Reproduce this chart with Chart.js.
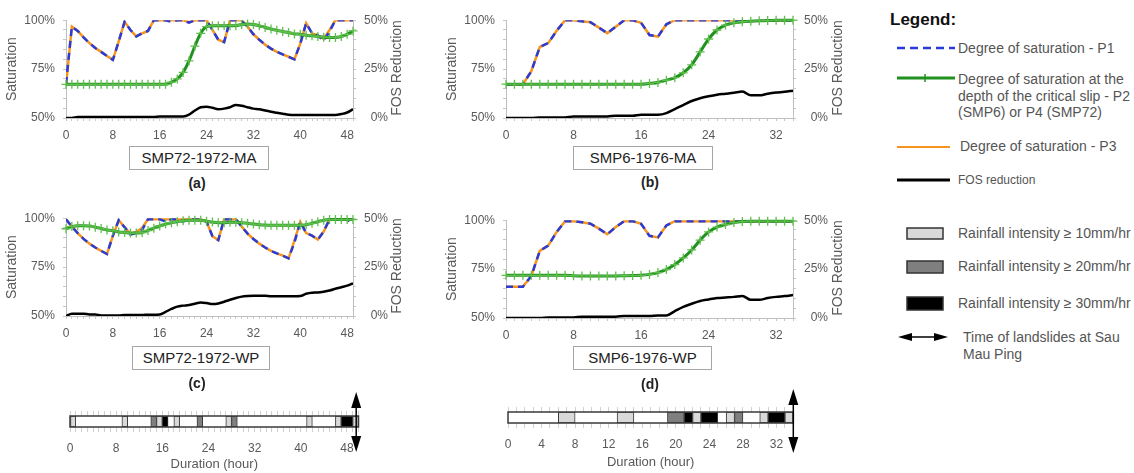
<!DOCTYPE html>
<html lang="en">
<head>
<meta charset="UTF-8">
<title>Degree of saturation and FOS reduction - Sau Mau Ping</title>
<script src="https://cdn.jsdelivr.net/npm/chart.js"></script>
<style>
  body { margin: 0; background: #fff; font-family: "Liberation Sans", Arial, sans-serif; }
  #page { position: relative; width: 1134px; height: 473px; overflow: hidden; background: #fff; }
  canvas { position: absolute; }
  .fos { position: absolute; width: 110px; text-align: center; font-size: 14px; color: #595959;
         white-space: nowrap; transform: translate(-50%, -50%) rotate(-90deg); }
  .case { position: absolute; border: 1px solid #a6a6a6; background: #fff; text-align: center;
          font-size: 15px; color: #222; height: 22px; line-height: 22px; }
  .tag { position: absolute; width: 40px; text-align: center; font-weight: bold; font-size: 14px; color: #222; line-height: 18px; }
  .lg { position: absolute; font-size: 14px; color: #555; line-height: 17px; white-space: nowrap; }
</style>
</head>
<body>
<div id="page">
  <canvas id="chartA" width="410" height="135" style="left:0px;top:5px"></canvas>
  <canvas id="chartB" width="410" height="135" style="left:440px;top:5px"></canvas>
  <canvas id="chartC" width="410" height="135" style="left:0px;top:203px"></canvas>
  <canvas id="chartD" width="410" height="135" style="left:440px;top:205px"></canvas>
  <canvas id="rain72" width="350" height="88" style="left:30px;top:385px"></canvas>
  <canvas id="rain76" width="360" height="88" style="left:470px;top:385px"></canvas>

  <div class="fos" style="left:396px;top:68px">FOS Reduction</div>
  <div class="fos" style="left:837px;top:68px">FOS Reduction</div>
  <div class="fos" style="left:396px;top:266px">FOS Reduction</div>
  <div class="fos" style="left:837px;top:268px">FOS Reduction</div>

  <div class="case" style="left:129px;top:146px;width:138px">SMP72-1972-MA</div>
  <div class="case" style="left:573px;top:146px;width:138px">SMP6-1976-MA</div>
  <div class="case" style="left:132px;top:346px;width:136px">SMP72-1972-WP</div>
  <div class="case" style="left:573px;top:346px;width:137px">SMP6-1976-WP</div>
  <div class="tag" style="left:177px;top:174px">(a)</div>
  <div class="tag" style="left:630px;top:173px">(b)</div>
  <div class="tag" style="left:177px;top:374px">(c)</div>
  <div class="tag" style="left:630px;top:375px">(d)</div>

  <!-- legend -->
  <svg style="position:absolute;left:880px;top:0" width="254" height="380">
    <line x1="17" y1="48" x2="75" y2="48" stroke="#2a3bd6" stroke-width="2.5" stroke-dasharray="8 5"/>
    <line x1="17" y1="78" x2="75" y2="78" stroke="#21921f" stroke-width="3"/>
    <line x1="45" y1="74" x2="45" y2="82" stroke="#21921f" stroke-width="1.5"/>
    <line x1="17" y1="147" x2="70" y2="147" stroke="#f7941d" stroke-width="2"/>
    <line x1="17" y1="180" x2="70" y2="180" stroke="#000" stroke-width="3"/>
    <rect x="27" y="228" width="36" height="11" fill="#d9d9d9" stroke="#333" stroke-width="1.5"/>
    <rect x="27" y="261" width="36" height="12" fill="#7f7f7f" stroke="#333" stroke-width="1.5"/>
    <rect x="27" y="297" width="36" height="13" fill="#000" stroke="#333" stroke-width="1.5"/>
    <line x1="26" y1="337" x2="60" y2="337" stroke="#000" stroke-width="1.5"/>
    <polygon points="18,337 32,333 32,341" fill="#000"/>
    <polygon points="68,337 54,333 54,341" fill="#000"/>
  </svg>
  <div class="lg" style="left:890px;top:10px;font-size:17px;font-weight:bold;color:#111;line-height:20px">Legend:</div>
  <div class="lg" style="left:958px;top:40px">Degree of saturation - P1</div>
  <div class="lg" style="left:958px;top:71px;line-height:16.7px">Degree of saturation at the<br>depth of the critical slip - P2<br>(SMP6) or P4 (SMP72)</div>
  <div class="lg" style="left:960px;top:138px">Degree of saturation - P3</div>
  <div class="lg" style="left:958px;top:173px;font-size:12px;line-height:14px">FOS reduction</div>
  <div class="lg" style="left:958px;top:225px">Rainfall intensity ≥ 10mm/hr</div>
  <div class="lg" style="left:958px;top:258px">Rainfall intensity ≥ 20mm/hr</div>
  <div class="lg" style="left:958px;top:295px">Rainfall intensity ≥ 30mm/hr</div>
  <div class="lg" style="left:963px;top:329px">Time of landslides at Sau<br>Mau Ping</div>
</div>
<script>
// hours (x categories)
const hours72 = [0, 1, 2, 3, 4, 5, 6, 7, 8, 9, 10, 11, 12, 13, 14, 15, 16, 17, 18, 19, 20, 21, 22, 23, 24,
                 25, 26, 27, 28, 29, 30, 31, 32, 33, 34, 35, 36, 37, 38, 39, 40, 41, 42, 43, 44, 45, 46, 47, 48, 49];
const hours76 = [0, 1, 2, 3, 4, 5, 6, 7, 8, 9, 10, 11, 12, 13, 14, 15, 16, 17, 18, 19, 20, 21, 22, 23, 24,
                 25, 26, 27, 28, 29, 30, 31, 32, 33, 34];

// (a) SMP72-1972-MA
const p1_72MA = [67.5, 96.7, 94.5, 91.2, 88.3, 85.8, 83.8, 81.7, 79.7, 89.2, 99.2, 95, 91.7, 93.3, 94.5, 100, 100, 100, 99.2, 100,
                 100, 98.7, 100, 100, 100, 95, 90, 88.8, 100, 100, 99.5, 96.7, 92.8, 90, 87.5, 85.5, 83.8, 82.5, 81.3, 80,
                 88, 98.5, 93.3, 92.2, 89.5, 94.2, 100, 100, 100, 100];
const p3_72MA = [66.5, 96.7, 94.5, 91.2, 88.3, 85.8, 83.8, 81.7, 79.7, 89.2, 99.2, 95, 91.7, 93.3, 94.5, 100, 100, 100, 100, 100,
                 100, 99, 100, 100, 100, 95, 90, 88.8, 100, 100, 100, 96.7, 92.8, 90, 87.5, 85.5, 83.8, 82.5, 81.3, 80,
                 88, 98.5, 93.3, 92.2, 90.5, 95, 100, 100, 100, 100];
const p4_72MA = [67.2, 67.2, 67.2, 67.2, 67.2, 67.2, 67.2, 67.2, 67.2, 67.2, 67.2, 67.2, 67.2, 67.2, 67.2, 67.2, 67.2, 67.2, 68.3, 70,
                 73.3, 79.2, 86.7, 93.3, 96.7, 97.2, 97.2, 97.2, 97.2, 97.2, 97.8, 98, 97.8, 97.2, 96.3, 95.5, 94.8, 94.2, 93.7, 93,
                 92.8, 92.3, 92, 91.7, 91.3, 91.2, 91.2, 91.7, 92.8, 94.5];
const fos_72MA = [0, 0, 0.5, 0.5, 0.5, 0.5, 0.5, 0.5, 0.5, 0.5, 0.5, 0.5, 0.5, 0.5, 0.5, 0.5, 0.8, 0.8, 0.8, 0.8,
                  0.8, 1.7, 3.8, 5.5, 5.8, 5.2, 4.5, 4.8, 5.5, 6.7, 6.3, 5.5, 4.8, 4.5, 3.8, 3.2, 2.7, 2.2, 1.7, 1.5,
                  1.5, 1.5, 1.5, 1.5, 1.5, 1.5, 1.5, 2, 2.8, 4.5];

// (b) SMP6-1976-MA
const p1_76MA = [67.3, 67.3, 67.3, 73.9, 86.3, 88.3, 94.6, 100, 100, 99.5, 99, 96.2, 93.4, 96.7, 100, 100, 98.7, 92.4, 91.6, 97.9,
                 100, 100, 100, 100, 100, 100, 100, 100, 100, 100, 100, 100, 100, 100, 100];
const p3_76MA = [67.3, 67.3, 67.3, 73.9, 86.3, 88.3, 94.6, 100, 100, 99.5, 99, 96.2, 93.4, 96.7, 100, 100, 98.7, 92.4, 91.6, 97.9,
                 100, 100, 100, 100, 100, 100, 100, 100, 100, 100, 100, 100, 100, 100, 100];
const p2_76MA = [67.3, 67.3, 67.3, 67.3, 67.3, 67.3, 67.3, 67.3, 67.3, 67.3, 67.3, 67.3, 67.3, 67.3, 67.3, 67.3, 67.3, 67.7, 68.2, 69.3,
                 70.6, 73.1, 77.2, 83.8, 90.4, 95, 97.5, 98.7, 99.2, 99.5, 99.7, 99.8, 100, 100, 100];
const fos_76MA = [0, 0, 0, 0, 0.3, 0.3, 0.3, 0.3, 0.8, 0.8, 0.8, 0.8, 0.8, 1.2, 1.2, 1.2, 1.7, 1.7, 1.7, 2.5,
                  4.5, 6.6, 8.7, 10.1, 11.1, 11.9, 12.4, 12.9, 13.5, 11.6, 11.6, 12.4, 13, 13.4, 14];

// (c) SMP72-1972-WP
const p1_72WP = [99.5, 95.7, 92.4, 89.4, 87, 85, 83.3, 81.7, 91, 99, 95.4, 91.6, 92.4, 94, 99.5, 99.5, 99.5, 98.2, 99.5, 99.5,
                 98.2, 99.5, 99.5, 99.5, 98.2, 90.8, 88.8, 99.5, 99.5, 99.5, 95.7, 92.1, 89.4, 87, 85, 83.3, 82, 80.9, 79.5, 87.5,
                 98.2, 92.4, 91.1, 89.1, 93.2, 99.5, 99.5, 99.5, 99.5, 96.5];
const p3_72WP = [99.5, 95.7, 92.4, 89.4, 87, 85, 83.3, 81.7, 91, 99, 95.4, 92, 93, 95, 99.5, 99.5, 99.5, 99.5, 99.5, 99.5,
                 99.5, 99.5, 99.5, 99.5, 98.2, 90.8, 88.8, 99.5, 99.5, 99.5, 95.7, 92.1, 89.4, 87, 85, 83.3, 82, 80.9, 79.5, 88.5,
                 98.2, 92.4, 91.1, 89.1, 93.2, 99.5, 99.5, 99.5, 99.5, 99.5];
const p4_72WP = [94.6, 95.7, 96.2, 96.2, 96, 95.4, 94.7, 94, 93.6, 93, 92.7, 92.4, 92.4, 92.7, 93.7, 94.9, 96, 97, 97.7, 98.2,
                 98.7, 99, 99, 99, 98.5, 98, 97.7, 97.7, 97.9, 97.9, 97.7, 97.4, 97, 96.7, 96.5, 96.4, 96.4, 96.4, 96.4, 96.4,
                 96.4, 96.7, 97.4, 98.2, 99, 99.3, 99.3, 99.3, 99.3, 99.3];
const fos_72WP = [0, 1.2, 1.2, 1.2, 0.8, 0.8, 0.3, 0.3, 0.3, 0.3, 0.5, 0.5, 0.5, 0.5, 0.7, 0.7, 0.8, 2.1, 3.6, 4.8,
                  5.3, 5.6, 6.3, 6.9, 6.6, 6.1, 6.4, 7.3, 8.3, 9.2, 9.9, 10.2, 10.3, 10.3, 10.3, 10.1, 10.1, 10.1, 10.1, 10.1,
                  10.2, 11.4, 11.9, 12, 12.4, 13, 13.9, 14.7, 15.5, 16.7];

// (d) SMP6-1976-WP
const p1_76WP = [66, 66, 66, 71.5, 84.3, 87, 94, 99.5, 99.5, 99, 98.2, 95.7, 92.8, 96.5, 99.5, 99.5, 98.2, 92, 91.2, 97.3,
                 99.5, 99.5, 99.5, 99.5, 99.5, 99.5, 99.5, 99.5, 99.5, 99.5, 99.5, 99.5, 99.5, 99.5, 99.5];
const p3_76WP = [66, 66, 66, 71.5, 84.3, 87, 94, 99.5, 99.5, 99, 98.2, 95.7, 92.8, 96.5, 99.5, 99.5, 98.2, 92, 91.2, 97.3,
                 99.5, 99.5, 99.5, 99.5, 99.5, 99.5, 99.5, 99.5, 99.5, 99.5, 99.5, 99.5, 99.5, 99.5, 99.5];
const p2_76WP = [71.8, 71.8, 71.8, 71.8, 71.8, 71.8, 71.8, 71.8, 71.6, 71.5, 71.5, 71.5, 71.5, 71.5, 71.6, 71.7, 71.8, 72.3, 73.2, 74.8,
                 77.3, 80.7, 84.8, 89.8, 94, 96.5, 97.8, 98.8, 99.3, 99.5, 99.5, 99.5, 99.5, 99.5, 99.5];
const fos_76WP = [0, 0, 0, 0, 0, 0.3, 0.3, 0.3, 0.3, 0.7, 0.7, 0.7, 0.7, 0.7, 1, 1, 1, 1, 1.3, 1.3,
                  3.5, 5.7, 7.3, 8.7, 9.5, 10.2, 10.5, 10.8, 11.3, 9.3, 9.3, 10.2, 10.8, 11.2, 11.7];

// rainfall periods [start hour, end hour]
const rain72_10 = [[0, 1], [9, 10], [15, 16], [18, 19], [27, 28], [41, 42], [46, 47], [49, 50]];
const rain72_20 = [[14, 15], [22, 23], [28, 29]];
const rain72_30 = [[16, 17], [47, 49]];
const rain76_10 = [[6, 8], [13, 15], [22, 23], [26, 27], [30, 31], [33, 34]];
const rain76_20 = [[19, 21], [27, 28]];
const rain76_30 = [[21, 22], [23, 25], [31, 33]];
const landslide72 = 49.6;
const landslide76 = 34;

Chart.defaults.font.family = "'Liberation Sans', Arial, sans-serif";
Chart.defaults.color = '#595959';

const axisGrey = '#bfbfbf';

function drawPanel(canvasId, hours, p1, p3, p24, fos) {
  new Chart(document.getElementById(canvasId), {
    type: 'line',
    data: {
      labels: hours,
      datasets: [
        { label: 'P2/P4', data: p24, borderColor: '#21921f', borderWidth: 3, cubicInterpolationMode: 'monotone',
          pointStyle: 'cross', pointRadius: 4.5, pointBorderColor: '#5fbf4c', pointBorderWidth: 1.3, order: 0, clip: 6 },
        { label: 'P1', data: p1, borderColor: '#2a3bd6', borderWidth: 2.5, borderDash: [7, 5], pointRadius: 0, order: 1 },
        { label: 'P3', data: p3, borderColor: '#f7941d', borderWidth: 2.5, pointRadius: 0, order: 2 },
        { label: 'FOS', data: fos, yAxisID: 'y1', borderColor: '#000', borderWidth: 2.5, pointRadius: 0,
          cubicInterpolationMode: 'monotone', order: 3 }
      ]
    },
    options: {
      responsive: false,
      animation: false,
      layout: { padding: { top: 13, right: 22 } },
      plugins: { legend: { display: false }, tooltip: { enabled: false } },
      scales: {
        x: {
          type: 'linear', min: 0, max: hours[hours.length - 1],
          grid: { drawOnChartArea: false, tickLength: 3, color: '#c8c8c8' },
          border: { color: axisGrey },
          ticks: { stepSize: 1, autoSkip: false, maxRotation: 0, padding: 7, font: { size: 12 },
                   callback: v => (v % 8 === 0 ? v : '') },
          afterFit: s => { s.height = 22; }
        },
        y: {
          min: 50, max: 100,
          grid: { drawOnChartArea: false, tickLength: 3, color: '#c8c8c8' },
          border: { color: axisGrey },
          ticks: { stepSize: 5, autoSkip: false, padding: 8, font: { size: 12 },
                   callback: v => (v % 25 === 0 ? v + '%' : '') },
          title: { display: true, text: 'Saturation', font: { size: 14 } },
          afterFit: s => { s.width = 66; }
        },
        y1: {
          position: 'right', min: 0, max: 50,
          grid: { drawOnChartArea: false, tickLength: 3, color: '#c8c8c8' },
          border: { color: axisGrey },
          ticks: { stepSize: 5, autoSkip: false, padding: 7, crossAlign: 'far', font: { size: 12 },
                   callback: v => (v % 25 === 0 ? v + '%' : '') },
          afterFit: s => { s.width = 35; }
        }
      }
    }
  });
}

drawPanel('chartA', hours72, p1_72MA, p3_72MA, p4_72MA, fos_72MA);
drawPanel('chartB', hours76, p1_76MA, p3_76MA, p2_76MA, fos_76MA);
drawPanel('chartC', hours72, p1_72WP, p3_72WP, p4_72WP, fos_72WP);
drawPanel('chartD', hours76, p1_76WP, p3_76WP, p2_76WP, fos_76WP);

// rainfall strips
const stripFrame = {
  id: 'stripFrame',
  afterDatasetsDraw(chart) {
    const { ctx, chartArea: a } = chart;
    ctx.save();
    ctx.strokeStyle = '#3a3a3a';
    ctx.lineWidth = 1.5;
    ctx.strokeRect(a.left, a.top, a.right - a.left, a.bottom - a.top);
    ctx.restore();
  }
};

const slideArrow = {
  id: 'slideArrow',
  afterDraw(chart, args, opts) {
    const { ctx, chartArea: a } = chart;
    const x = chart.scales.x.getPixelForValue(opts.at);
    const top = a.top - opts.up, bottom = a.bottom + opts.down;
    ctx.save();
    ctx.strokeStyle = '#000';
    ctx.fillStyle = '#000';
    ctx.lineWidth = 1.5;
    ctx.beginPath();
    ctx.moveTo(x, top + 10);
    ctx.lineTo(x, bottom - 10);
    ctx.stroke();
    ctx.beginPath();
    ctx.moveTo(x, top); ctx.lineTo(x - 5, top + 16); ctx.lineTo(x + 5, top + 16);
    ctx.closePath(); ctx.fill();
    ctx.beginPath();
    ctx.moveTo(x, bottom); ctx.lineTo(x - 5, bottom - 16); ctx.lineTo(x + 5, bottom - 16);
    ctx.closePath(); ctx.fill();
    ctx.restore();
  }
};

function rainSets(light, medium, heavy) {
  const groups = [[light, '#d9d9d9'], [medium, '#7f7f7f'], [heavy, '#000000']];
  return groups.flatMap(([periods, colour]) => periods.map(p => ({
    data: [p], backgroundColor: colour, borderColor: '#3a3a3a', borderWidth: 1, borderSkipped: false,
    grouped: false, barPercentage: 1, categoryPercentage: 1
  })));
}

function drawStrip(canvasId, sets, maxHour, labelEvery, pad, xHeight, arrow) {
  new Chart(document.getElementById(canvasId), {
    type: 'bar',
    data: { labels: ['rain'], datasets: sets },
    plugins: [stripFrame, slideArrow],
    options: {
      indexAxis: 'y',
      responsive: false,
      animation: false,
      layout: { padding: pad },
      plugins: { legend: { display: false }, tooltip: { enabled: false }, slideArrow: arrow },
      scales: {
        y: { display: false },
        x: {
          type: 'linear', min: 0, max: maxHour,
          grid: { drawOnChartArea: false, tickLength: 5, color: '#d0d0d0' },
          border: { display: false },
          ticks: { stepSize: 1, autoSkip: false, maxRotation: 0, padding: 9, font: { size: 12 },
                   callback: v => (v % labelEvery === 0 && v < maxHour ? v : '') },
          title: { display: true, text: 'Duration (hour)', font: { size: 13 }, padding: { top: 0, bottom: 0 } },
          afterFit: s => { s.height = xHeight; }
        },
        x2: {
          type: 'linear', position: 'top', min: 0, max: maxHour,
          grid: { drawOnChartArea: false, tickLength: 5, color: '#d0d0d0' },
          border: { display: false },
          ticks: { stepSize: 1, autoSkip: false, display: false },
          afterFit: s => { s.height = 5; }
        }
      }
    }
  });
}

drawStrip('rain72', rainSets(rain72_10, rain72_20, rain72_30), 50, 8,
          { left: 40, right: 21.5, top: 26, bottom: 1 }, 45, { at: landslide72, up: 24, down: 25 });
drawStrip('rain76', rainSets(rain76_10, rain76_20, rain76_30), 34, 4,
          { left: 38, right: 36.7, top: 22, bottom: 3 }, 47, { at: landslide76, up: 23, down: 30 });
</script>
</body>
</html>
